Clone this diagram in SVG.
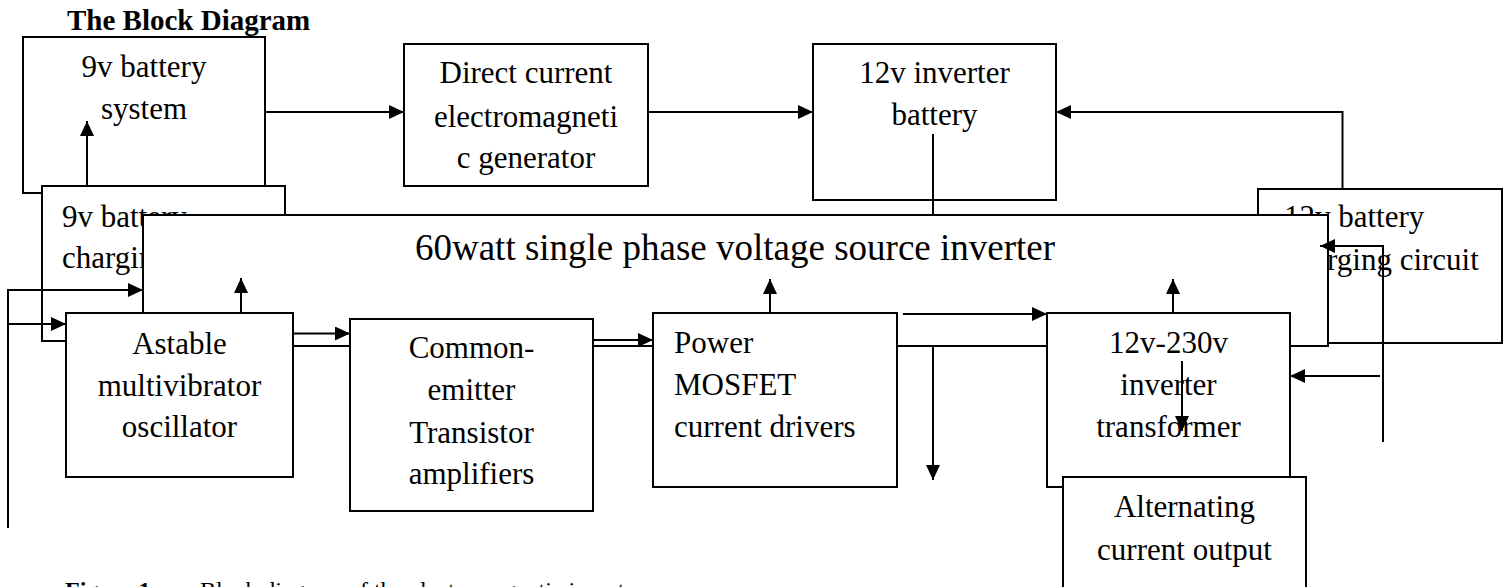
<svg xmlns="http://www.w3.org/2000/svg" width="1507" height="587" viewBox="0 0 1507 587">
<style>
.box{fill:#fff;stroke:#000;stroke-width:2}
.t{font-family:"Liberation Serif","Times New Roman",serif;font-size:31px;fill:#000}
.c{text-anchor:middle}
.big{font-size:37px}
.ttl{font-family:"Liberation Serif","Times New Roman",serif;font-size:29px;font-weight:bold;fill:#000}
.cap{font-family:"Liberation Serif","Times New Roman",serif;font-size:24px;fill:#000}
.ln{fill:none;stroke:#000;stroke-width:2}
.ar{marker-end:url(#ah)}
</style>
<defs>
<marker id="ah" markerUnits="userSpaceOnUse" markerWidth="15" markerHeight="14" refX="15" refY="7" orient="auto"><path d="M0,0 L15,7 L0,14 z" fill="#000"/></marker>
</defs>
<rect width="1507" height="587" fill="#fff"/>
<text class="ttl" x="67" y="30">The Block Diagram</text>

<g id="n-9v-battery-system">
<rect class="box" x="23" y="37" width="242" height="156"/>
<text class="t c" x="144" y="77">9v battery</text>
<text class="t c" x="144" y="119">system</text>
</g>
<g id="n-9v-charging">
<rect class="box" x="42" y="186" width="243" height="155"/>
<text class="t" x="62" y="227">9v battery</text>
<text class="t" x="62" y="268">charging circuit</text>
</g>
<g id="n-dc-generator">
<rect class="box" x="404" y="44" width="244" height="142"/>
<text class="t c" x="526" y="83">Direct current</text>
<text class="t c" x="526" y="127">electromagneti</text>
<text class="t c" x="526" y="168">c generator</text>
</g>
<g id="n-12v-battery">
<rect class="box" x="813" y="44" width="243" height="156"/>
<text class="t c" x="934.5" y="83">12v inverter</text>
<text class="t c" x="934.5" y="125">battery</text>
</g>
<g id="n-12v-charging">
<rect class="box" x="1258" y="189" width="244" height="154"/>
<text class="t" x="1284" y="227">12v battery</text>
<text class="t" x="1284" y="270">charging circuit</text>
</g>
<g id="n-inverter">
<rect class="box" x="143" y="215" width="1185" height="131"/>
<text class="t big c" x="735" y="260">60watt single phase voltage source inverter</text>
</g>
<g id="n-astable">
<rect class="box" x="66" y="313" width="227" height="164"/>
<text class="t c" x="179.5" y="354">Astable</text>
<text class="t c" x="179.5" y="396">multivibrator</text>
<text class="t c" x="179.5" y="437">oscillator</text>
</g>
<g id="n-common-emitter">
<rect class="box" x="350" y="319" width="243" height="192"/>
<text class="t c" x="471.5" y="358">Common-</text>
<text class="t c" x="471.5" y="400">emitter</text>
<text class="t c" x="471.5" y="443">Transistor</text>
<text class="t c" x="471.5" y="484">amplifiers</text>
</g>
<g id="n-mosfet">
<rect class="box" x="653" y="313" width="244" height="174"/>
<text class="t" x="674" y="353">Power</text>
<text class="t" x="674" y="395">MOSFET</text>
<text class="t" x="674" y="437">current drivers</text>
</g>
<g id="n-transformer">
<rect class="box" x="1047" y="313" width="243" height="174"/>
<text class="t c" x="1168.5" y="353">12v-230v</text>
<text class="t c" x="1168.5" y="395">inverter</text>
<text class="t c" x="1168.5" y="437">transformer</text>
</g>
<g id="n-ac-output">
<rect class="box" x="1063" y="477" width="243" height="130"/>
<text class="t c" x="1184.5" y="517">Alternating</text>
<text class="t c" x="1184.5" y="560">current output</text>
</g>

<g id="connectors">
<path class="ln ar" d="M265,112 H404"/>
<path class="ln ar" d="M648,112 H813"/>
<path class="ln ar" d="M1342.5,189 V112 H1056"/>
<path class="ln ar" d="M87,186 V121"/>
<path class="ln" d="M933,134 V215"/>
<path class="ln ar" d="M933,347 V480"/>
<path class="ln ar" d="M8,528 V290 H143"/>
<path class="ln ar" d="M8,324 H66"/>
<path class="ln ar" d="M241,313 V278"/>
<path class="ln ar" d="M770,313 V279"/>
<path class="ln ar" d="M1173,313 V279"/>
<path class="ln ar" d="M293,333.5 H350"/>
<path class="ln ar" d="M593,340 H653"/>
<path class="ln ar" d="M903,314 H1047"/>
<path class="ln ar" d="M1182,361 V431"/>
<path class="ln ar" d="M1383,442 V246 H1320"/>
<path class="ln ar" d="M1380,376 H1290"/>
</g>

<text class="cap" y="598"><tspan x="65" font-weight="bold">Figure 1:</tspan><tspan x="200">Block diagram of the electromagnetic inverter</tspan></text>
</svg>
